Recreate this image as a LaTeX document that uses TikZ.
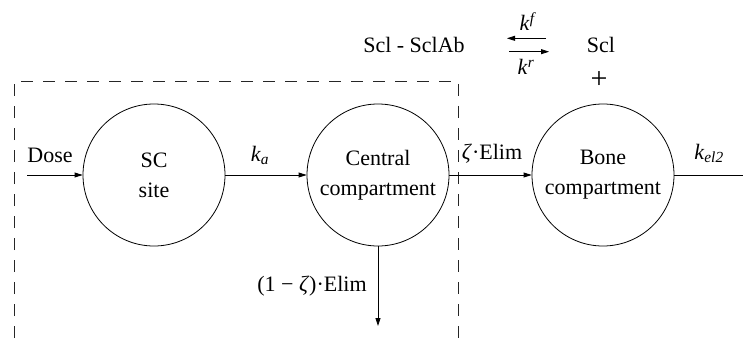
\documentclass[tikz,border=0pt]{standalone}
\usepackage{fontspec}
\setmainfont{Liberation Serif}
\usetikzlibrary{arrows.meta}
\tikzset{
  comp/.style={draw, circle, minimum size=142pt, inner sep=0pt, align=center, line width=0.8pt,
    font=\fontsize{22}{30}\selectfont},
  lbl/.style={anchor=base, inner sep=0pt, font=\fontsize{22}{30}\selectfont},
  conn/.style={line width=0.8pt, -{Triangle[length=8pt,width=5pt]}},
  plainconn/.style={line width=0.8pt},
  box/.style={line width=0.8pt, dash pattern=on 12pt off 10pt, gray!30!black}
}
\begin{document}
\begin{tikzpicture}[x=1pt,y=-1pt]
\clip (0,0) rectangle (743,342);
% dashed box
\draw[box] (14,360) -- (14,81) -- (458,81) -- (458,360);
% compartments
\node[comp] (sc) at (154,175) {SC\\site};
\node[comp] (cen) at (378,175) {Central\\compartment};
\node[comp] (bone) at (603,175) {Bone\\compartment};
% free ends
\coordinate (dosein) at (27,175);
\coordinate (out2) at (750,175);
\coordinate (down) at (378,326);
\coordinate (fa) at (546,38.3);
\coordinate (fb) at (507,38.3);
\coordinate (ra) at (509,51.7);
\coordinate (rb) at (549,51.7);
% connectors
\draw[conn] (dosein) -- (sc.west);
\draw[conn] (sc.east) -- (cen.west);
\draw[conn] (cen.east) -- (bone.west);
\draw[plainconn] (bone.east) -- (out2);
\draw[conn] (cen.south) -- (down);
\draw[conn] (fa) -- (fb);
\draw[conn] (ra) -- (rb);
% labels
\node[lbl] (dose) at (50,162) {Dose};
\node[lbl] (ka) at (260,161) {\textit{k}\textsubscript{\textit{a}}};
\node[lbl] (zel) at (492,159) {\textit{ζ}·Elim};
\node[lbl] (kel) at (709,159) {\textit{k}\textsubscript{\textit{el2}}};
\node[lbl] (oneminus) at (312,291) {(1 − \textit{ζ})·Elim};
\node[lbl] (complex) at (414,53) {Scl - SclAb};
\node[lbl] (scl) at (601,53) {Scl};
\node[lbl] (kf) at (528,31) {\textit{k}\textsuperscript{\textit{f}}};
\node[lbl] (kr) at (526,75) {\textit{k}\textsuperscript{\textit{r}}};
\node[inner sep=0pt, font=\fontsize{30}{30}\selectfont] (plus) at (599,80) {+};
\end{tikzpicture}
\end{document}
